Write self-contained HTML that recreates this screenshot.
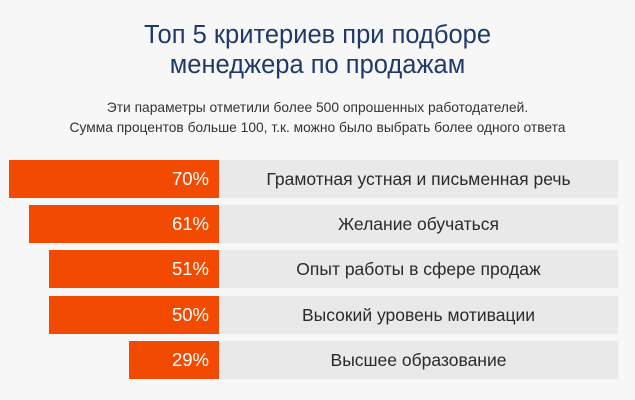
<!DOCTYPE html>
<html><head><meta charset="utf-8"><style>
body{margin:0;width:635px;height:400px;background:#f7f7f7;font-family:"Liberation Sans",sans-serif;position:relative;overflow:hidden}
.t{position:absolute;left:0;width:635px;text-align:center;color:#1f3a68;font-size:25.5px;line-height:30px;top:20px}
.s{position:absolute;left:0;width:635px;text-align:center;color:#333;font-size:13.8px;line-height:20px;top:98px}
.g{position:absolute;left:219px;width:399px;height:38px;background:#e9e9e9;color:#2a2a2a;font-size:17.5px;line-height:38px;text-align:center}
.o{position:absolute;height:38px;background:#f24a00;color:#fff;font-size:18.5px;line-height:38px;text-align:right;box-sizing:border-box;padding-right:10px}
</style></head><body>
<div class="t">Топ 5 критериев при подборе<br>менеджера по продажам</div>
<div class="s">Эти параметры отметили более 500 опрошенных работодателей.<br>Сумма процентов больше 100, т.к. можно было выбрать более одного ответа</div>
<div class="o" style="top:160px;left:9px;width:210px">70%</div><div class="g" style="top:160px">Грамотная устная и письменная речь</div>
<div class="o" style="top:205px;left:29px;width:190px">61%</div><div class="g" style="top:205px">Желание обучаться</div>
<div class="o" style="top:250px;left:49px;width:170px">51%</div><div class="g" style="top:250px">Опыт работы в сфере продаж</div>
<div class="o" style="top:296px;left:49px;width:170px">50%</div><div class="g" style="top:296px">Высокий уровень мотивации</div>
<div class="o" style="top:341px;left:129px;width:90px">29%</div><div class="g" style="top:341px">Высшее образование</div>
</body></html>
